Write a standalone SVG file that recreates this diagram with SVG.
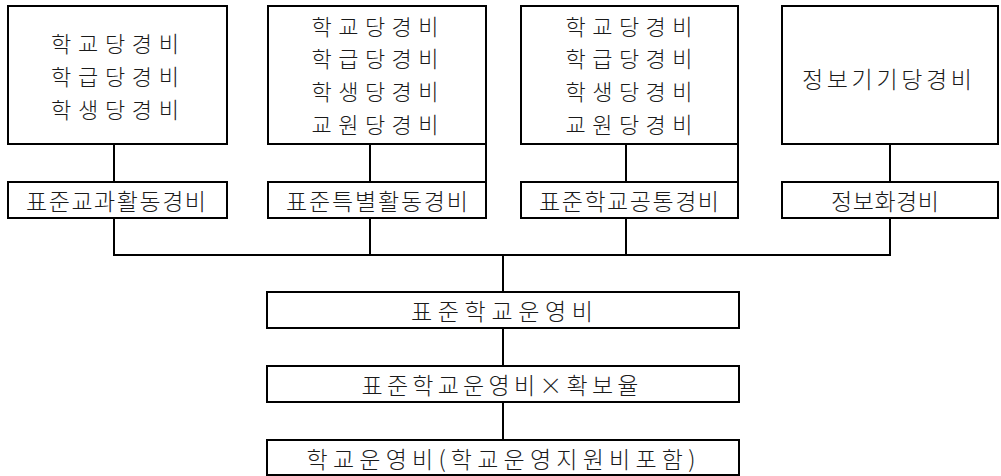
<svg xmlns="http://www.w3.org/2000/svg" width="1001" height="476" viewBox="0 0 1001 476">
<style>
rect.box{fill:#fff;stroke:#000;stroke-width:2}
.ln{stroke:#000;stroke-width:2;fill:none}
text{font-family:"Noto Sans CJK KR","Noto Sans CJK SC",sans-serif;font-size:23px;font-weight:300;fill:#1a1a1a;text-anchor:middle;dominant-baseline:central}
text.big{font-size:22px}
</style>
<rect width="1001" height="476" fill="#fff"/>
<g id="connectors">
<line class="ln" x1="114" y1="144" x2="114" y2="182"/>
<line class="ln" x1="370" y1="144" x2="370" y2="182"/>
<line class="ln" x1="626" y1="144" x2="626" y2="182"/>
<line class="ln" x1="890" y1="144" x2="890" y2="182"/>
<line class="ln" x1="486" y1="144" x2="486" y2="182"/>
<line class="ln" x1="738" y1="144" x2="738" y2="182"/>
<line class="ln" x1="114" y1="218" x2="114" y2="255"/>
<line class="ln" x1="370" y1="218" x2="370" y2="255"/>
<line class="ln" x1="626" y1="218" x2="626" y2="255"/>
<line class="ln" x1="890" y1="218" x2="890" y2="255"/>
<line class="ln" x1="113" y1="255" x2="891" y2="255"/>
<line class="ln" x1="503" y1="255" x2="503" y2="292"/>
<line class="ln" x1="503" y1="328" x2="503" y2="366"/>
<line class="ln" x1="503" y1="402" x2="503" y2="440"/>
</g>
<g id="n1">
<rect class="box" x="8" y="6" width="219" height="138"/>
<text class="big" x="115" y="42" textLength="128" lengthAdjust="spacing">학교당경비</text>
<text class="big" x="115" y="75" textLength="128" lengthAdjust="spacing">학급당경비</text>
<text class="big" x="115" y="108" textLength="128" lengthAdjust="spacing">학생당경비</text>
</g>
<g id="n2">
<rect class="box" x="268" y="6" width="218" height="138"/>
<text class="big" x="375" y="25" textLength="127" lengthAdjust="spacing">학교당경비</text>
<text class="big" x="375" y="57" textLength="127" lengthAdjust="spacing">학급당경비</text>
<text class="big" x="375" y="90" textLength="127" lengthAdjust="spacing">학생당경비</text>
<text class="big" x="375" y="123" textLength="127" lengthAdjust="spacing">교원당경비</text>
</g>
<g id="n3">
<rect class="box" x="521" y="6" width="217" height="138"/>
<text class="big" x="629" y="25" textLength="127" lengthAdjust="spacing">학교당경비</text>
<text class="big" x="629" y="57" textLength="127" lengthAdjust="spacing">학급당경비</text>
<text class="big" x="629" y="90" textLength="127" lengthAdjust="spacing">학생당경비</text>
<text class="big" x="629" y="123" textLength="127" lengthAdjust="spacing">교원당경비</text>
</g>
<g id="n4">
<rect class="box" x="782" y="6" width="216" height="138"/>
<text x="887" y="78" textLength="170" lengthAdjust="spacing">정보기기당경비</text>
</g>
<g id="s1">
<rect class="box" x="8" y="182" width="219" height="36"/>
<text x="116" y="200" textLength="180" lengthAdjust="spacing">표준교과활동경비</text>
</g>
<g id="s2">
<rect class="box" x="268" y="182" width="218" height="36"/>
<text x="377" y="200" textLength="182" lengthAdjust="spacing">표준특별활동경비</text>
</g>
<g id="s3">
<rect class="box" x="521" y="182" width="217" height="36"/>
<text x="629" y="200" textLength="180" lengthAdjust="spacing">표준학교공통경비</text>
</g>
<g id="s4">
<rect class="box" x="782" y="182" width="216" height="36"/>
<text x="885" y="200" textLength="108" lengthAdjust="spacing">정보화경비</text>
</g>
<g id="b1">
<rect class="box" x="267" y="292" width="472" height="36"/>
<text x="502" y="310" textLength="182" lengthAdjust="spacing">표준학교운영비</text>
</g>
<g id="b2">
<rect class="box" x="267" y="366" width="472" height="36"/>
<text x="500" y="384" textLength="277" lengthAdjust="spacing">표준학교운영비×확보율</text>
</g>
<g id="b3">
<rect class="box" x="267" y="440" width="472" height="35"/>
<text x="501" y="458" textLength="389" lengthAdjust="spacing">학교운영비(학교운영지원비포함)</text>
</g>
</svg>
